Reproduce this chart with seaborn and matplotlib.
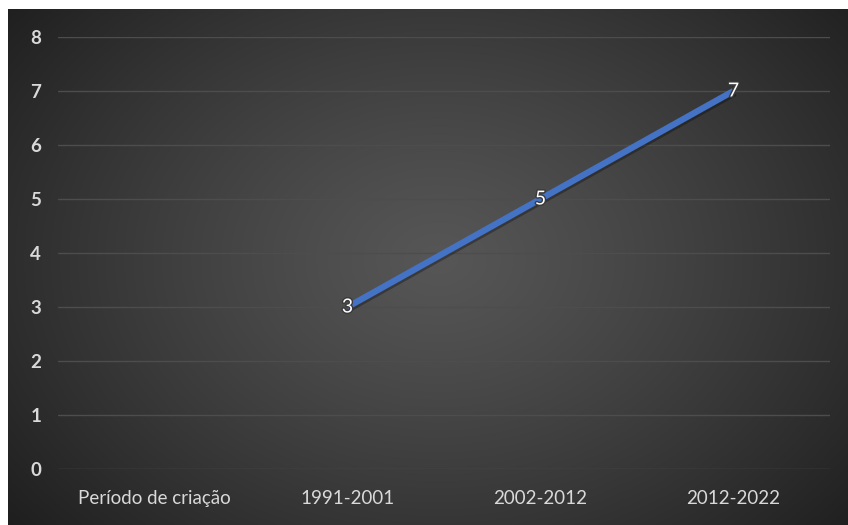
import numpy as np
import pandas as pd
import seaborn as sns
import matplotlib.pyplot as plt
import matplotlib.patheffects as pe

categories = ['Período de criação', '1991-2001', '2002-2012', '2012-2022']
values = [np.nan, 3, 5, 7]
yticks = [0, 1, 2, 3, 4, 5, 6, 7, 8]

df = pd.DataFrame({'periodo': categories, 'valor': values})

sns.set_style('white')
plt.rcParams['font.family'] = ['Lato', 'DejaVu Sans']

fig = plt.figure(figsize=(8.48, 5.25), dpi=100)
fig.patch.set_facecolor('white')

# radial gradient background
bg = fig.add_axes([8 / 848, 0, 1 - 8 / 848, 1 - 9 / 525])
bg.set_axis_off()
yy, xx = np.mgrid[0:516, 0:840]
cx, cy = 430, 250
r = np.sqrt(((xx - cx) / 560.0) ** 2 + ((yy - cy) / 420.0) ** 2)
r = np.clip(r, 0, 1)
c0, c1 = 0x56 / 255, 0x1e / 255
shade = c0 + (c1 - c0) * r ** 1.2
bg.imshow(np.dstack([shade] * 3), aspect='auto', interpolation='bilinear')

ax = fig.add_axes([58 / 848, 1 - 469 / 525, 772 / 848, 432 / 525])
ax.patch.set_alpha(0)

sns.pointplot(data=df, x='periodo', y='valor', order=categories, ax=ax,
              color='#4472C4', markers='', linestyles='-', errorbar=None)
for ln in ax.lines:
    ln.set_linewidth(4.5)
    ln.set_solid_capstyle('butt')
    ln.set_clip_on(False)
    ln.set_path_effects([pe.SimpleLineShadow(offset=(1, -1.5), shadow_color='black', alpha=0.3),
                         pe.Normal()])

for i, v in enumerate(values):
    if not np.isnan(v):
        ax.text(i, v, f'{v:g}', ha='center', va='center', color='white', fontsize=14,
                path_effects=[pe.withStroke(linewidth=2, foreground='#3a3a3a')])

ax.set_ylim(0, 8)
ax.set_xlim(-0.5, 3.5)
ax.set_yticks(yticks)
ax.set_yticklabels([str(t) for t in yticks], fontweight='bold', fontsize=13.5, color='#d9d9d9')
ax.set_xticklabels(categories, fontsize=13.5, color='#d9d9d9')
ax.tick_params(axis='y', length=0, pad=12)
ax.tick_params(axis='x', length=0, pad=15)
ax.set_xlabel('')
ax.set_ylabel('')
ax.grid(axis='y', color='#4d4d4d', linewidth=1)
ax.set_axisbelow(True)
for s in ax.spines.values():
    s.set_visible(False)

fig.savefig('out.png', dpi=100)
